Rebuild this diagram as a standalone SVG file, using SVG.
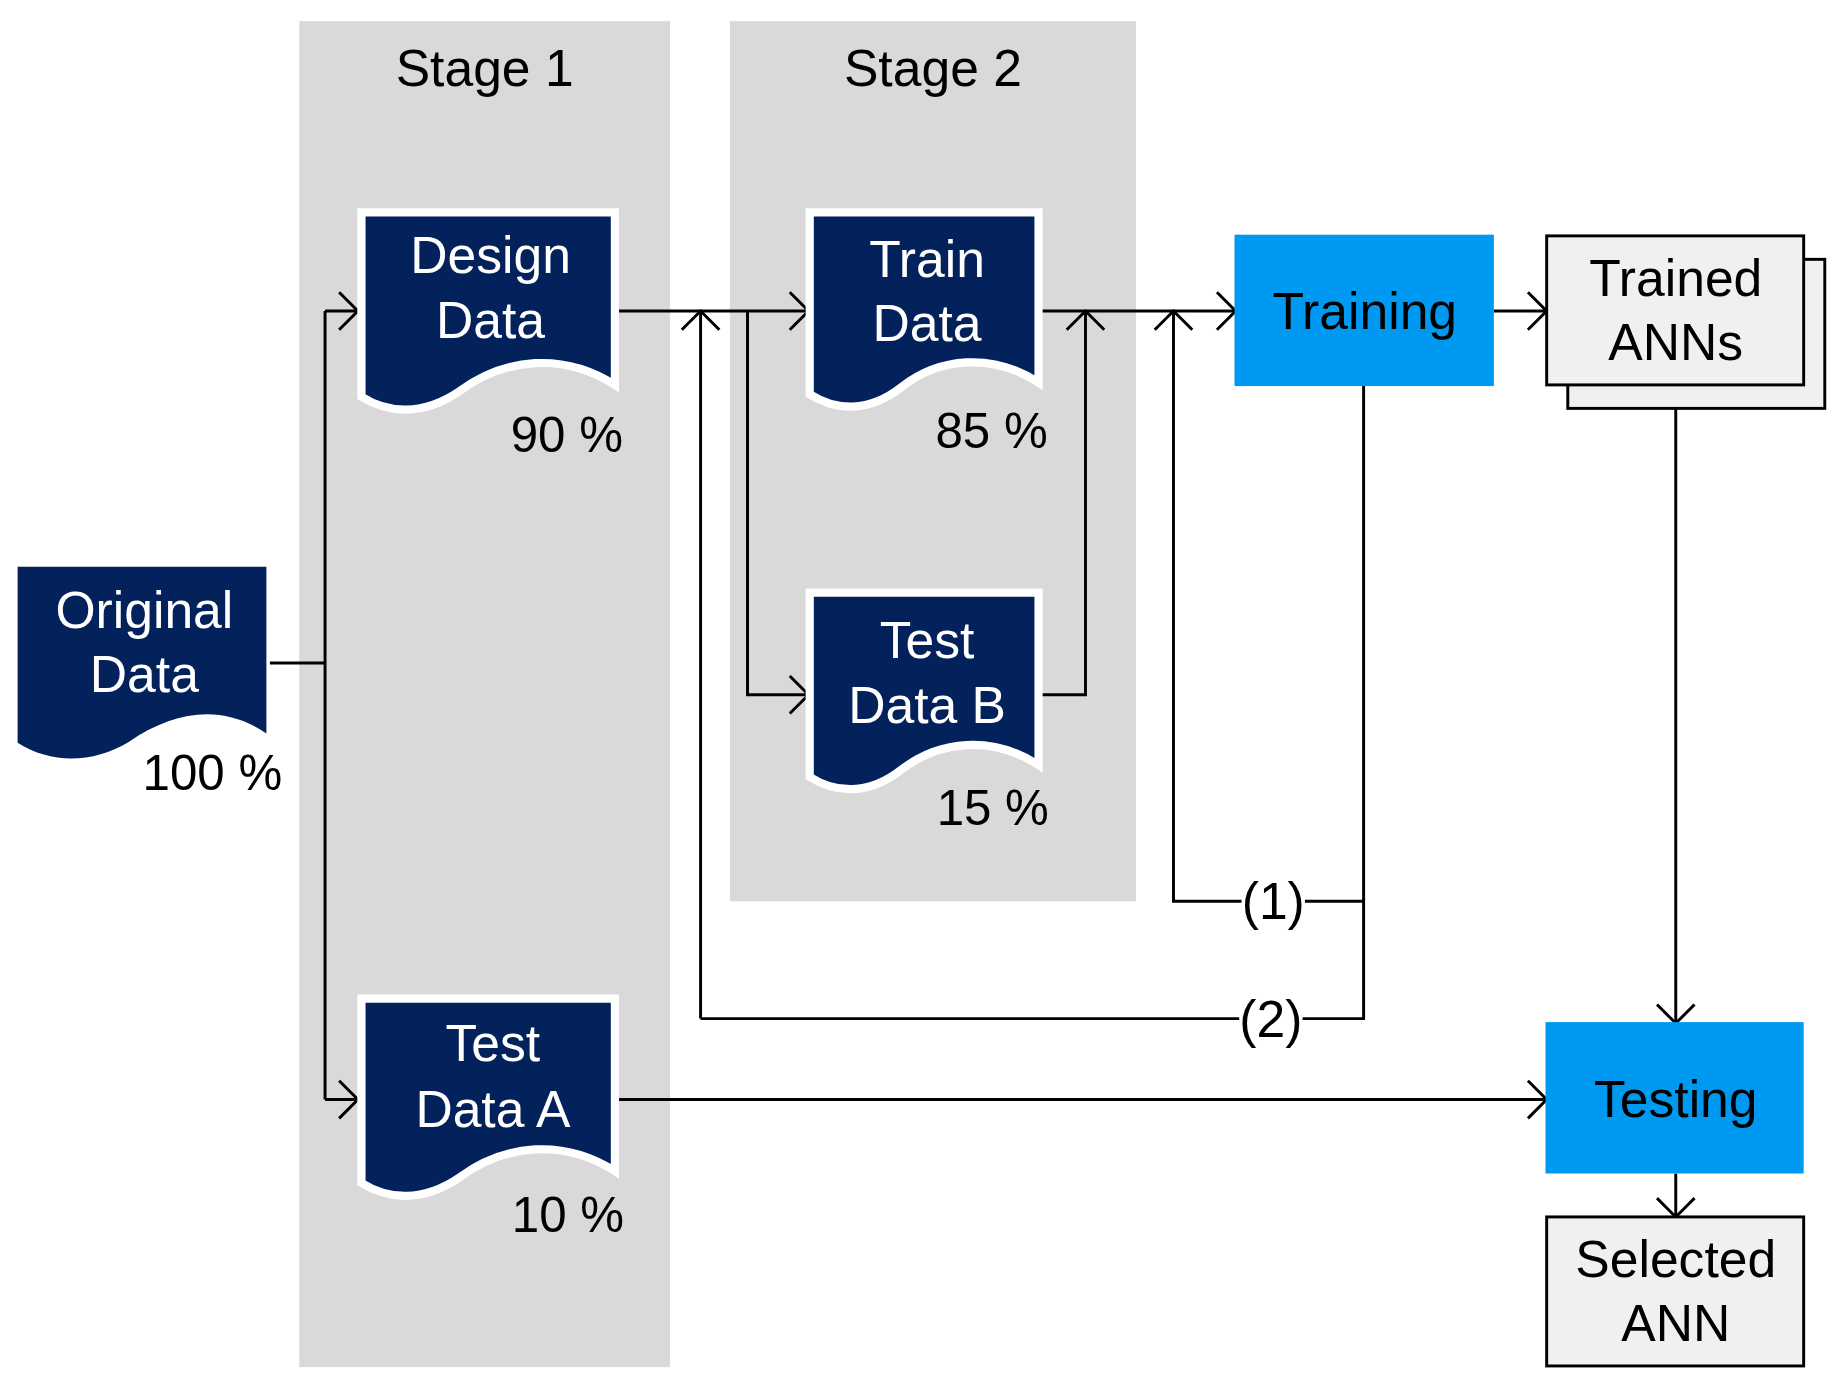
<svg xmlns="http://www.w3.org/2000/svg" width="1840" height="1394" viewBox="0 0 1840 1394">
<style>
text{font-family:"Liberation Sans",Arial,sans-serif;text-anchor:middle}
.w{fill:#fff;font-size:44px}
.b{fill:#000;font-size:44px}
.p{fill:#000;font-size:42px}
.doc{fill:#03215b;stroke:#fff;stroke-width:7}
.c{fill:none;stroke:#000;stroke-width:2.5}
</style>
<defs>
<marker id="a" markerUnits="userSpaceOnUse" markerWidth="30" markerHeight="40" refX="22" refY="18" orient="auto">
<path d="M6,2 L22,18 L6,34" fill="none" stroke="#000" stroke-width="2.5"/>
</marker>
</defs>
<rect width="1840" height="1394" fill="#fff"/>
<g transform="scale(1.1735)">
<g id="stage1"><rect x="255" y="18" width="316" height="1147" fill="#d9d9d9"/><text class="b" x="413" y="73">Stage 1</text></g>
<g id="stage2"><rect x="622" y="18" width="346" height="750" fill="#d9d9d9"/><text class="b" x="795" y="73">Stage 2</text></g>
<g id="connectors">
<path class="c" d="M230,565 H277 M277,265 V937"/>
<path class="c" d="M277,265 H305" marker-end="url(#a)"/>
<path class="c" d="M277,937 H305" marker-end="url(#a)"/>
<path class="c" d="M527,265 H689" marker-end="url(#a)"/>
<path class="c" d="M637,265 V592 H689" marker-end="url(#a)"/>
<path class="c" d="M597,868 V265" marker-end="url(#a)"/>
<path class="c" d="M886,265 H1053" marker-end="url(#a)"/>
<path class="c" d="M886,592 H925 V265" marker-end="url(#a)"/>
<path class="c" d="M1162,329 V868 H1110 M1162,768 H1112 M1058,768 H1000 V265" marker-end="url(#a)"/>
<path class="c" d="M1056,868 H597"/>
<path class="c" d="M1273,265 H1318" marker-end="url(#a)"/>
<path class="c" d="M1428,348 V872" marker-end="url(#a)"/>
<path class="c" d="M527,937 H1318" marker-end="url(#a)"/>
<path class="c" d="M1428,1000 V1037" marker-end="url(#a)"/>
<text class="b" x="1085" y="783">(1)</text>
<text class="b" x="1083" y="884">(2)</text>
</g>
<g id="original"><path d="M15,483 H227 V625 C190,600 150,605 110,632 C80,650 45,652 15,633 Z" fill="#03215b"/><text class="w" x="123" y="535">Original</text><text class="w" x="123" y="590">Data</text><text class="p" x="181" y="673">100 %</text></g>
<g id="design"><path class="doc" d="M308,181 H524 V328 C480,300 430,305 392,333 C360,355 330,352 308,338 Z"/><text class="w" x="418" y="233">Design</text><text class="w" x="418" y="288">Data</text><text class="p" x="483" y="385">90 %</text></g>
<g id="train"><path class="doc" d="M690,181 H885 V326 C845,300 800,305 768,330 C740,352 712,350 690,336 Z"/><text class="w" x="790" y="236">Train</text><text class="w" x="790" y="291">Data</text><text class="p" x="845" y="382">85 %</text></g>
<g id="testb"><path class="doc" d="M690,505 H885 V652 C845,626 800,631 768,656 C740,678 712,676 690,662 Z"/><text class="w" x="790" y="561">Test</text><text class="w" x="790" y="616">Data B</text><text class="p" x="846" y="703">15 %</text></g>
<g id="testa"><path class="doc" d="M308,851 H524 V998 C480,970 430,975 392,1003 C360,1025 330,1022 308,1008 Z"/><text class="w" x="420" y="904">Test</text><text class="w" x="420" y="960">Data A</text><text class="p" x="484" y="1050">10 %</text></g>
<g id="training"><rect x="1052" y="200" width="221" height="129" fill="#0099f2"/><text class="b" x="1163" y="280">Training</text></g>
<g id="trained"><rect x="1336" y="221" width="219" height="127" fill="#f0f0f0" stroke="#000" stroke-width="2.5"/><rect x="1318" y="201" width="219" height="127" fill="#f0f0f0" stroke="#000" stroke-width="2.5"/><text class="b" x="1428" y="252">Trained</text><text class="b" x="1428" y="307">ANNs</text></g>
<g id="testing"><rect x="1317" y="871" width="220" height="129" fill="#0099f2"/><text class="b" x="1428" y="952">Testing</text></g>
<g id="selected"><rect x="1318" y="1037" width="219" height="127" fill="#f0f0f0" stroke="#000" stroke-width="2.5"/><text class="b" x="1428" y="1088">Selected</text><text class="b" x="1428" y="1143">ANN</text></g>
</g>
</svg>
